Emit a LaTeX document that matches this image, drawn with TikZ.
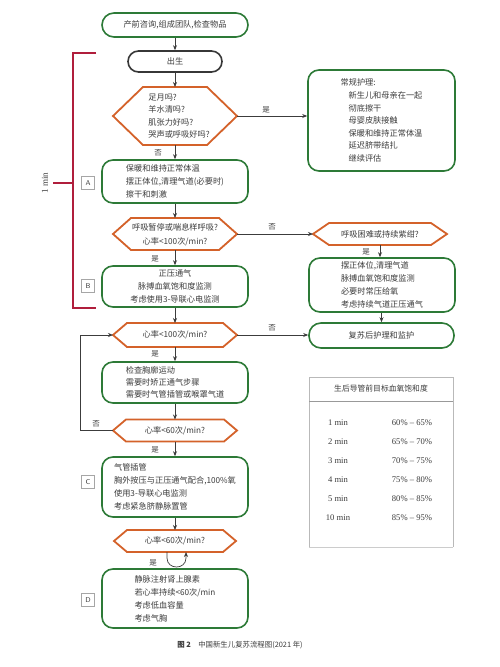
\documentclass[tikz,border=0pt]{standalone}
\usepackage{fontspec}
\setmainfont{Liberation Serif}
\newfontfamily\cjk{Noto Sans CJK SC}
\usetikzlibrary{arrows.meta,calc}
\definecolor{gbord}{RGB}{45,122,55}
\definecolor{obord}{RGB}{212,98,42}
\definecolor{rbord}{RGB}{176,30,60}
\definecolor{txt}{RGB}{60,60,60}
\definecolor{dbord}{RGB}{55,55,55}
\tikzset{
  gbox/.style={draw=gbord, line width=1.6pt, rounded corners=11pt, text=txt,
    font=\cjk\fontsize{8.2}{13}\selectfont, align=left, inner sep=0pt},
  hexline/.style={draw=obord, line width=1.8pt, line join=miter},
  hextext/.style={text=txt, font=\cjk\fontsize{8.2}{13}\selectfont, inner sep=0pt},
  arr/.style={draw=txt, line width=0.7pt, -{Stealth[length=5pt,width=4pt]}},
  lbl/.style={font=\cjk\fontsize{7.5}{9}\selectfont, text=txt, inner sep=0pt},
  tagbox/.style={draw=gray!70, line width=0.5pt, minimum width=13pt, minimum height=13pt,
    inner sep=0pt, font=\sffamily\fontsize{7}{8}\selectfont, text=txt},
  tabtxt/.style={font=\fontsize{8.6}{10}\selectfont, text=txt, inner sep=0pt},
}
\newcommand\hexnode[6]{%
  \draw[hexline] (#2-#4,#3) -- (#2-#4+#6,#3-#5) -- (#2+#4-#6,#3-#5) -- (#2+#4,#3)
    -- (#2+#4-#6,#3+#5) -- (#2-#4+#6,#3+#5) -- cycle;
  \coordinate (#1-w) at (#2-#4,#3);
  \coordinate (#1-e) at (#2+#4,#3);
  \coordinate (#1-n) at (#2,#3-#5);
  \coordinate (#1-s) at (#2,#3+#5);
}
\begin{document}
\begin{tikzpicture}[x=1pt,y=-1pt]
\useasboundingbox[fill=white] (0,0) rectangle (500,667);

% top boxes
\node[gbox, rounded corners=12pt, minimum width=146pt, minimum height=24pt, align=center] (top) at (175,25) {产前咨询,组成团队,检查物品};
\node[gbox, draw=dbord, rounded corners=10.5pt, minimum width=94pt, minimum height=21pt, align=center] (birth) at (175,61.5) {出生};

% hexagon 1
\hexnode{h1}{175}{116}{62}{29}{30}
\node[hextext, align=left, font=\cjk\fontsize{8.2}{12.3}\selectfont] (h1t) at (179,116) {足月吗?\\羊水清吗?\\肌张力好吗?\\哭声或呼吸好吗?};

% routine care
\node[gbox, minimum width=147pt, minimum height=101pt, font=\cjk\fontsize{8.2}{12.6}\selectfont] (care) at (381.5,120.5)
 {常规护理:\\\hspace{8pt}新生儿和母亲在一起\\\hspace{8pt}彻底擦干\\\hspace{8pt}母婴皮肤接触\\\hspace{8pt}保暖和维持正常体温\\\hspace{8pt}延迟脐带结扎\\\hspace{8pt}继续评估};

% box A
\node[gbox, minimum width=146pt, minimum height=43pt] (A) at (175,181.5)
 {保暖和维持正常体温\\摆正体位,清理气道(必要时)\\擦干和刺激};

% hexagon 2
\hexnode{h2}{175}{234}{62}{16}{18}
\node[hextext, align=center, font=\cjk\fontsize{8.2}{14}\selectfont] (h2t) at (175,235) {呼吸暂停或喘息样呼吸?\\心率<100次/min?};

% right hexagon
\hexnode{hR}{380}{234}{67}{11}{16}
\node[hextext] (hRt) at (380,234) {呼吸困难或持续紫绀?};

% right box 2
\node[gbox, minimum width=146pt, minimum height=54pt] (R2) at (382,285)
 {摆正体位,清理气道\\脉搏血氧饱和度监测\\必要时常压给氧\\考虑持续气道正压通气};

% post care
\node[gbox, rounded corners=12pt, minimum width=145pt, minimum height=25pt, align=center] (post) at (381.5,335.5) {复苏后护理和监护};

% box B
\node[gbox, minimum width=146pt, minimum height=41pt, align=center] (B) at (175,286.5)
 {正压通气\\脉搏血氧饱和度监测\\考虑使用3-导联心电监测};

% hexagon 3
\hexnode{h3}{175}{335}{62}{12}{14}
\node[hextext] (h3t) at (175,335) {心率<100次/min?};

% box 3
\node[gbox, minimum width=146pt, minimum height=41pt, font=\cjk\fontsize{8.2}{12}\selectfont] (E) at (175,382.5)
 {检查胸廓运动\\需要时矫正通气步骤\\需要时气管插管或喉罩气道};

% hexagon 4
\hexnode{h4}{175}{430.5}{62}{11}{13}
\node[hextext] (h4t) at (175,430.5) {心率<60次/min?};

% box C
\node[gbox, minimum width=146pt, minimum height=60pt] (C) at (175,487)
 {气管插管\\胸外按压与正压通气配合,100\%氧\\使用3-导联心电监测\\考虑紧急脐静脉置管};

% hexagon 5
\hexnode{h5}{175}{541}{61}{11}{13}
\node[hextext] (h5t) at (175,541) {心率<60次/min?};

% box D
\node[gbox, minimum width=146pt, minimum height=59pt] (D) at (175,598.5)
 {静脉注射肾上腺素\\若心率持续<60次/min\\考虑低血容量\\考虑气胸};

% tags
\node[tagbox] (tA) at (88,183) {A};
\node[tagbox] (tB) at (88,286) {B};
\node[tagbox] (tC) at (88,482) {C};
\node[tagbox] (tD) at (88,600) {D};

% red bracket
\draw[rbord, line width=1.3pt] (96,53) -- (73,53) -- (73,308) -- (96,308);
\draw[rbord, line width=1.3pt] (53,183) -- (73,183);
\node[font=\fontsize{9}{10}\selectfont, text=txt, rotate=90, inner sep=0pt] (onemin) at (45,183) {1 min};

% connectors
\draw[arr] (top) -- (birth);
\draw[arr] (birth) -- (h1-n);
\draw[arr] (h1-e) -- (h1-e -| care.west);
\node[lbl] (l1) at (266,110) {是};
\draw[arr] (h1-s) -- (A);
\node[lbl] (l2) at (158,153) {否};
\draw[arr] (A) -- (h2-n);
\draw[arr] (h2-e) -- (hR-w);
\node[lbl] (l3) at (272,227) {否};
\draw[arr] (h2-s) -- (B);
\node[lbl] (l4) at (155,259) {是};
\draw[arr] (hR-s) -- (hR-s |- R2.north);
\node[lbl] (l5) at (366,252) {是};
\draw[arr] (R2.south -| post) -- (post);
\draw[arr] (B) -- (h3-n);
\draw[arr] (h3-e) -- (h3-e -| post.west);
\node[lbl] (l6) at (272,328) {否};
\draw[arr] (h3-s) -- (E);
\node[lbl] (l7) at (155,354) {是};
\draw[arr] (E) -- (h4-n);
\draw[arr] (h4-w) -- ++(-33,0) |- (h3-w);
\node[lbl] (l8) at (96,424) {否};
\draw[arr] (h4-s) -- (C);
\node[lbl] (l9) at (155,450) {是};
\draw[arr] (C) -- (h5-n);
\coordinate (uL) at ($(h5-s)+(-8,0)$);
\coordinate (uR) at ($(h5-s)+(11,0)$);
\draw[arr] (uL) -- ++(0,6) .. controls ++(0,12) and ++(0,12) .. ($(uR)+(0,6)$) -- (uR);
\node[lbl] (l10) at (153,563) {是};

% table
\draw[gray!55, line width=0.6pt] (309,547) -- (309,377) -- (453,377) -- (453,547);
\draw[gray!80, line width=0.8pt] (309,401) -- (453,401);
\draw[gray!40, line width=0.5pt] (309,547) -- (453,547);
\node[hextext, font=\cjk\fontsize{7.8}{9}\selectfont] (th) at (381,389) {生后导管前目标血氧饱和度};
\node[tabtxt] (r1a) at (338,423) {1 min};  \node[tabtxt] (r1b) at (412,423) {60\% – 65\%};
\node[tabtxt] (r2a) at (338,442) {2 min};  \node[tabtxt] (r2b) at (412,442) {65\% – 70\%};
\node[tabtxt] (r3a) at (338,461) {3 min};  \node[tabtxt] (r3b) at (412,461) {70\% – 75\%};
\node[tabtxt] (r4a) at (338,480) {4 min};  \node[tabtxt] (r4b) at (412,480) {75\% – 80\%};
\node[tabtxt] (r5a) at (338,499) {5 min};  \node[tabtxt] (r5b) at (412,499) {80\% – 85\%};
\node[tabtxt] (r6a) at (338,518) {10 min}; \node[tabtxt] (r6b) at (412,518) {85\% – 95\%};

% caption
\node[hextext, font=\cjk\fontsize{7.4}{9}\selectfont] (cap) at (240,645) {\textbf{图 2}\quad 中国新生儿复苏流程图(2021 年)};
\end{tikzpicture}
\end{document}
